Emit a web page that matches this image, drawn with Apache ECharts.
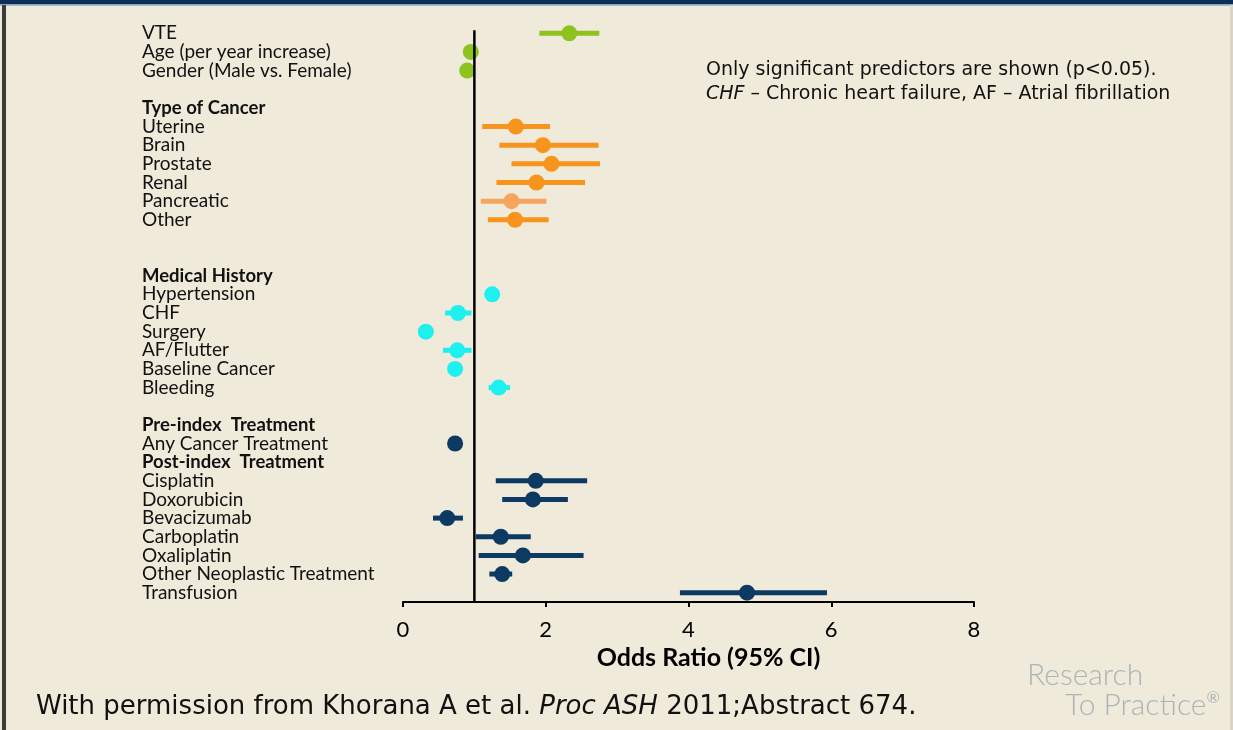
<!DOCTYPE html>
<html>
<head>
<meta charset="utf-8">
<script src="https://cdn.jsdelivr.net/npm/echarts@6/dist/echarts.min.js"></script>
<style>
  html, body { margin: 0; padding: 0; background: #f0eadb; }
  #chart { width: 1233px; height: 730px; }
</style>
</head>
<body>
<div id="chart"></div>
<script>
// ---------- DATA ----------
var rowLabels = ['VTE', 'Age (per year increase)', 'Gender (Male vs. Female)', '',
  'Type of Cancer', 'Uterine', 'Brain', 'Prostate', 'Renal', 'Pancreatic', 'Other', '', '',
  'Medical History', 'Hypertension', 'CHF', 'Surgery', 'AF/Flutter', 'Baseline Cancer', 'Bleeding', '',
  'Pre-index  Treatment', 'Any Cancer Treatment', 'Post-index  Treatment',
  'Cisplatin', 'Doxorubicin', 'Bevacizumab', 'Carboplatin', 'Oxaliplatin',
  'Other Neoplastic Treatment', 'Transfusion'];
var headerRows = ['Type of Cancer', 'Medical History', 'Pre-index  Treatment', 'Post-index  Treatment'];
var oddsRatio = [2.33, 0.95, 0.90, null,
  null, 1.58, 1.96, 2.08, 1.87, 1.52, 1.57, null, null,
  null, 1.25, 0.77, 0.32, 0.76, 0.73, 1.34, null,
  null, 0.73, null,
  1.86, 1.82, 0.62, 1.37, 1.68, 1.39, 4.82];
var ciLow = [1.91, 0.93, 0.88, null,
  null, 1.11, 1.35, 1.52, 1.31, 1.09, 1.19, null, null,
  null, 1.18, 0.59, 0.28, 0.56, 0.68, 1.20, null,
  null, 0.70, null,
  1.30, 1.39, 0.42, 1.02, 1.06, 1.21, 3.88];
var ciHigh = [2.75, 0.97, 0.92, null,
  null, 2.06, 2.74, 2.76, 2.55, 2.01, 2.04, null, null,
  null, 1.30, 0.96, 0.36, 0.96, 0.78, 1.50, null,
  null, 0.80, null,
  2.58, 2.31, 0.84, 1.79, 2.53, 1.53, 5.94];
var rowGroups = ['patient', 'patient', 'patient', null,
  null, 'cancer', 'cancer', 'cancer', 'cancer', 'cancer', 'cancer', null, null,
  null, 'history', 'history', 'history', 'history', 'history', 'history', null,
  null, 'treatment', null,
  'treatment', 'treatment', 'treatment', 'treatment', 'treatment', 'treatment', 'treatment'];
var xTicks = [0, 2, 4, 6, 8];
var referenceOR = 1;

// ---------- STYLE ----------
var groupColors = { patient: '#8dc21f', cancer: '#f7941e', history: '#1ef0f0', treatment: '#0d3a63' };
var rowColorOverride = { 'Pancreatic': '#f6a45e' };
function rowColor(i) {
  return rowColorOverride[rowLabels[i]] || groupColors[rowGroups[i]];
}

var ciData = [], pointData = [];
for (var i = 0; i < rowLabels.length; i++) {
  if (oddsRatio[i] == null) continue;
  ciData.push({ value: [ciLow[i], ciHigh[i], i], itemStyle: { color: rowColor(i) } });
  pointData.push({ value: [oddsRatio[i], i], itemStyle: { color: rowColor(i), opacity: 1 } });
}

var chart = echarts.init(document.getElementById('chart'));
chart.setOption({
  backgroundColor: '#f0eadb',
  animation: false,
  grid: { left: 403, right: 259, top: 24, bottom: 128, containLabel: false },
  xAxis: {
    type: 'value', min: xTicks[0], max: xTicks[xTicks.length - 1], interval: 2,
    splitLine: { show: false },
    axisLine: { show: true, lineStyle: { color: '#000', width: 2 } },
    axisTick: { show: true, length: 5, lineStyle: { color: '#000', width: 2 } },
    axisLabel: { color: '#000', fontFamily: 'Lato', fontSize: 22, margin: 17 },
    name: 'Odds Ratio (95% CI)', nameLocation: 'middle', nameGap: 40,
    nameTextStyle: { color: '#000', fontFamily: 'Lato', fontWeight: 'bold', fontSize: 25, padding: [0, 0, 0, 40] }
  },
  yAxis: {
    type: 'category', inverse: true, data: rowLabels,
    axisLine: { show: false }, axisTick: { show: false }, splitLine: { show: false },
    axisLabel: {
      interval: 0, align: 'left', margin: 261, color: '#111', fontFamily: 'Lato', fontSize: 19,
      formatter: function (v) { return headerRows.indexOf(v) >= 0 ? '{b|' + v + '}' : v; },
      rich: { b: { fontWeight: 'bold', fontFamily: 'Lato', fontSize: 18.5, color: '#111' } }
    }
  },
  series: [
    {
      type: 'custom', z: 2,
      data: ciData,
      renderItem: function (params, api) {
        var a = api.coord([api.value(0), api.value(2)]);
        var b = api.coord([api.value(1), api.value(2)]);
        return { type: 'line', shape: { x1: a[0], y1: a[1], x2: b[0], y2: b[1] },
          style: { stroke: api.visual('color'), lineWidth: 5 } };
      }
    },
    {
      type: 'scatter', z: 3, symbol: 'circle', symbolSize: 16,
      itemStyle: { opacity: 1 },
      data: pointData
    },
    {
      type: 'custom', z: 4,
      data: [[referenceOR]],
      renderItem: function (params, api) {
        var top = api.coord([api.value(0), 0]);
        var cs = params.coordSys;
        return { type: 'line', shape: { x1: top[0], y1: top[1] - 3, x2: top[0], y2: cs.y + cs.height },
          style: { stroke: '#000', lineWidth: 2.5 } };
      }
    }
  ],
  graphic: [
    { type: 'rect', left: 0, top: 0, shape: { width: 1233, height: 4.5 }, style: { fill: '#0b2d5a' } },
    { type: 'rect', left: 0, top: 4.5, shape: { width: 1233, height: 1.5 }, style: { fill: '#a9b9c6' } },
    { type: 'rect', left: 2, top: 5, shape: { width: 4, height: 725 }, style: { fill: '#3b3b3b' } },
    { type: 'rect', left: 1230, top: 5, shape: { width: 3, height: 725 }, style: { fill: '#d9d4c8' } },
    { type: 'text', left: 706, top: 61, style: { text: 'Only significant predictors are shown (p<0.05).',
        fill: '#111', font: '19px "DejaVu Sans"' } },
    { type: 'text', left: 706, top: 85, style: { text: '{i|CHF} – Chronic heart failure, AF – Atrial fibrillation',
        fill: '#111', font: '19px "DejaVu Sans"',
        rich: { i: { fontStyle: 'italic', fontFamily: 'DejaVu Sans', fontSize: 19, fill: '#111' } } } },
    { type: 'text', left: 36, top: 694, style: { text: 'With permission from Khorana A et al. {i|Proc ASH} 2011;Abstract 674.',
        fill: '#111', font: '26px "DejaVu Sans"',
        rich: { i: { fontStyle: 'italic', fontFamily: 'DejaVu Sans', fontSize: 26, fill: '#111' } } } },
    { type: 'text', left: 1027, top: 660, style: { text: 'Research', fill: '#a9b5b7', font: '300 30px Lato' } },
    { type: 'text', left: 1065, top: 690, style: { text: 'To Practice{r|®}', fill: '#a9b5b7', font: '300 30px Lato',
        rich: { r: { fontSize: 16, fontFamily: 'Lato', fill: '#a9b5b7', verticalAlign: 'top', padding: [0, 0, 12, 0] } } } }
  ]
});
</script>
</body>
</html>
